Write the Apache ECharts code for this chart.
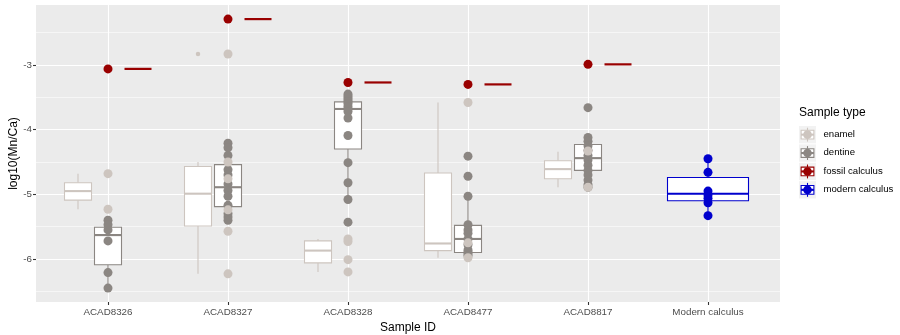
<!DOCTYPE html>
<html>
<head>
<meta charset="utf-8">
<script src="https://cdn.jsdelivr.net/npm/echarts@6/dist/echarts.min.js"></script>
<style>html,body{margin:0;padding:0;background:#fff}#c{width:900px;height:335px}</style>
</head>
<body>
<div id="c"></div>
<script>
// ---------- data ----------
const categories = ['ACAD8326', 'ACAD8327', 'ACAD8328', 'ACAD8477', 'ACAD8817', 'Modern calculus'];
const yTicks = [-6, -5, -4, -3];
const yMinor = [-6.5, -5.5, -4.5, -3.5, -2.5];
// box stats: [lowerWhisker, Q1, median, Q3, upperWhisker] for ACAD8326..ACAD8817
const enamelBox = [
  [-5.23, -5.09, -4.95, -4.82, -4.68],
  [-6.23, -5.49, -4.99, -4.57, -4.50],
  [-6.20, -6.06, -5.87, -5.72, -5.69],
  [-5.98, -5.87, -5.76, -4.67, -3.58],
  [-4.89, -4.76, -4.61, -4.48, -4.34]
];
const dentineBox = [
  [-6.45, -6.09, -5.63, -5.51, -5.40],
  [-5.40, -5.19, -4.89, -4.54, -4.21],
  [-5.08, -4.30, -3.68, -3.57, -3.45],
  [-5.95, -5.90, -5.69, -5.48, -5.03],
  [-4.89, -4.63, -4.44, -4.23, -4.12]
];
const modernBox = [-5.33, -5.10, -4.99, -4.74, -4.45];
const fossilValues = [-3.06, -2.29, -3.27, -3.30, -2.99];
const enamelOutliers = [[], [-2.83], [], [], []];
const enamelPoints = [
  [-4.68, -5.23],
  [-2.83, -4.50, -4.76, -5.24, -5.57, -6.23],
  [-5.69, -5.73, -6.01, -6.20],
  [-3.58, -5.75, -5.98],
  [-4.33, -4.89]
];
const dentinePoints = [
  [-5.40, -5.47, -5.55, -5.72, -6.21, -6.45],
  [-4.21, -4.28, -4.40, -4.62, -4.70, -4.84, -4.94, -5.03, -5.17, -5.30, -5.35, -5.40],
  [-3.45, -3.48, -3.51, -3.54, -3.57, -3.60, -3.64, -3.68, -3.72, -3.82, -4.09, -4.51, -4.82, -5.08, -5.43],
  [-4.41, -4.72, -5.03, -5.47, -5.55, -5.60, -5.69, -5.78, -5.86, -5.89, -5.92, -5.95],
  [-3.66, -4.12, -4.18, -4.25, -4.32, -4.40, -4.47, -4.55, -4.63, -4.70, -4.78, -4.85, -4.89]
];
const modernPoints = [-4.45, -4.66, -4.95, -5.01, -5.06, -5.13, -5.33];
const legendLabels = ['enamel', 'dentine', 'fossil calculus', 'modern calculus'];

// ---------- styling ----------
const colors = { enamel: '#CDC5BF', dentine: '#8B8682', fossil: '#990000', modern: '#0000CD' };
const legendColors = [colors.enamel, colors.dentine, colors.fossil, colors.modern];
const dodge = 0.25, boxW = 0.225, modernW = 0.675;
const FONT = 'Liberation Sans, Arial, sans-serif';

function boxRenderer(color, width) {
  return function (params, api) {
    const x = api.value(0);
    const lo = api.value(1), q1 = api.value(2), med = api.value(3), q3 = api.value(4), hi = api.value(5);
    const tl = api.coord([x - width / 2, q3]);
    const br = api.coord([x + width / 2, q1]);
    const cx = api.coord([x, med])[0];
    const yHi = api.coord([x, hi])[1], yLo = api.coord([x, lo])[1], yMed = api.coord([x, med])[1];
    const ls = { stroke: color, lineWidth: 1.1 };
    return { type: 'group', children: [
      { type: 'line', shape: { x1: cx, y1: yHi, x2: cx, y2: tl[1] }, style: ls },
      { type: 'line', shape: { x1: cx, y1: br[1], x2: cx, y2: yLo }, style: ls },
      { type: 'rect', shape: { x: tl[0], y: tl[1], width: br[0] - tl[0], height: br[1] - tl[1] },
        style: { fill: '#ffffff', stroke: color, lineWidth: 1.1 } },
      { type: 'line', shape: { x1: tl[0], y1: yMed, x2: br[0], y2: yMed }, style: { stroke: color, lineWidth: 2.1 } }
    ]};
  };
}
function segRenderer(color, width) {
  return function (params, api) {
    const x = api.value(0), v = api.value(1);
    const a = api.coord([x - width / 2, v]), b = api.coord([x + width / 2, v]);
    return { type: 'line', shape: { x1: a[0], y1: a[1], x2: b[0], y2: b[1] }, style: { stroke: color, lineWidth: 2.2 } };
  };
}
const pos = i => i + 1;
const enamelBoxData = enamelBox.map((b, i) => [pos(i) - dodge].concat(b));
const dentineBoxData = dentineBox.map((b, i) => [pos(i)].concat(b));
const modernBoxData = [[pos(5)].concat(modernBox)];
const fossilData = fossilValues.map((v, i) => [pos(i) + dodge, v]);
const fossilPtData = fossilValues.map((v, i) => [pos(i), v]);
const enamelOutData = [];
enamelOutliers.forEach((arr, i) => arr.forEach(v => enamelOutData.push([pos(i) - dodge, v])));
const enamelPtData = [];
enamelPoints.forEach((arr, i) => arr.forEach(v => enamelPtData.push([pos(i), v])));
const dentinePtData = [];
dentinePoints.forEach((arr, i) => arr.forEach(v => dentinePtData.push([pos(i), v])));
const modernPtData = modernPoints.map(v => [pos(5), v]);

const gridLines = [];
yMinor.forEach(v => gridLines.push({ yAxis: v, lineStyle: { color: '#ffffff', width: 0.55, type: 'solid' } }));
yTicks.forEach(v => gridLines.push({ yAxis: v, lineStyle: { color: '#ffffff', width: 1.1, type: 'solid' } }));
categories.forEach((c, i) => gridLines.push({ xAxis: pos(i), lineStyle: { color: '#ffffff', width: 1.1, type: 'solid' } }));

// legend graphic
const legendGraphic = [
  { type: 'text', left: 799, top: 107, style: { text: 'Sample type', font: '12px ' + FONT, fill: '#000' } }
];
legendLabels.forEach((lab, i) => {
  const y0 = 126 + i * 18.4;
  const c = legendColors[i];
  legendGraphic.push({ type: 'group', x: 799, y: y0, children: [
    { type: 'rect', shape: { x: 0, y: 0, width: 17, height: 17.3 }, style: { fill: '#F2F2F2' } },
    { type: 'line', shape: { x1: 8.5, y1: 1.7, x2: 8.5, y2: 15.6 }, style: { stroke: c, lineWidth: 1.1 } },
    { type: 'rect', shape: { x: 2.1, y: 4.3, width: 12.8, height: 8.7 }, style: { fill: '#fff', stroke: c, lineWidth: 1.1 } },
    { type: 'line', shape: { x1: 2.1, y1: 8.65, x2: 14.9, y2: 8.65 }, style: { stroke: c, lineWidth: 2.1 } },
    { type: 'circle', shape: { cx: 8.5, cy: 8.65, r: 4.3 }, style: { fill: c } }
  ]});
  legendGraphic.push({ type: 'text', left: 823.5, top: y0 + 3.2, style: { text: lab, font: '9.6px ' + FONT, fill: '#000' } });
});

const chart = echarts.init(document.getElementById('c'), null, { renderer: 'canvas' });
chart.setOption({
  animation: false,
  backgroundColor: '#ffffff',
  textStyle: { fontFamily: FONT },
  grid: { left: 36, right: 120, top: 5, bottom: 33, show: true, backgroundColor: '#EBEBEB', borderWidth: 0,
    containLabel: false, outerBoundsMode: 'none' },
  xAxis: {
    type: 'value', min: 0.4, max: 6.6,
    name: 'Sample ID', nameLocation: 'middle', nameGap: 16,
    nameTextStyle: { fontSize: 12, color: '#000', fontFamily: FONT },
    axisLine: { show: false },
    axisTick: { show: true, length: 3, customValues: [1, 2, 3, 4, 5, 6], lineStyle: { color: '#333333', width: 1.1 } },
    axisLabel: { customValues: [1, 2, 3, 4, 5, 6], formatter: v => categories[Math.round(v) - 1] || '',
      fontSize: 9.8, color: '#4D4D4D', margin: 5, fontFamily: FONT },
    splitLine: { show: false }
  },
  yAxis: {
    type: 'value', min: -6.665, max: -2.072,
    name: 'log10(Mn/Ca)', nameLocation: 'middle', nameGap: 16, nameRotate: 90, nameMoveOverlap: false,
    nameTextStyle: { fontSize: 12, color: '#000', fontFamily: FONT },
    axisLine: { show: false },
    axisTick: { show: true, length: 3, customValues: yTicks, lineStyle: { color: '#333333', width: 1.1 } },
    axisLabel: { customValues: yTicks, formatter: v => String(v), fontSize: 9.8, color: '#4D4D4D', margin: 4, fontFamily: FONT },
    splitLine: { show: false }
  },
  graphic: legendGraphic,
  series: [
    { type: 'line', data: [], z: 1, silent: true,
      markLine: { z: 1, silent: true, symbol: ['none', 'none'], label: { show: false }, animation: false,
        emphasis: { disabled: true }, data: gridLines } },
    { type: 'custom', z: 2, data: enamelBoxData, encode: { x: 0, y: [1, 2, 3, 4, 5] }, renderItem: boxRenderer(colors.enamel, boxW) },
    { type: 'custom', z: 2, data: dentineBoxData, encode: { x: 0, y: [1, 2, 3, 4, 5] }, renderItem: boxRenderer(colors.dentine, boxW) },
    { type: 'custom', z: 2, data: fossilData, encode: { x: 0, y: 1 }, renderItem: segRenderer(colors.fossil, boxW) },
    { type: 'custom', z: 2, data: modernBoxData, encode: { x: 0, y: [1, 2, 3, 4, 5] }, renderItem: boxRenderer(colors.modern, modernW) },
    { type: 'scatter', z: 3, data: enamelOutData, symbolSize: 4.5, itemStyle: { color: colors.enamel, opacity: 1 } },
    { type: 'scatter', z: 3, data: dentinePtData, symbolSize: 9, itemStyle: { color: colors.dentine, opacity: 1 } },
    { type: 'scatter', z: 3, data: enamelPtData, symbolSize: 9, itemStyle: { color: colors.enamel, opacity: 1 } },
    { type: 'scatter', z: 3, data: fossilPtData, symbolSize: 9, itemStyle: { color: colors.fossil, opacity: 1 } },
    { type: 'scatter', z: 3, data: modernPtData, symbolSize: 9, itemStyle: { color: colors.modern, opacity: 1 } }
  ]
});
</script>
</body>
</html>
